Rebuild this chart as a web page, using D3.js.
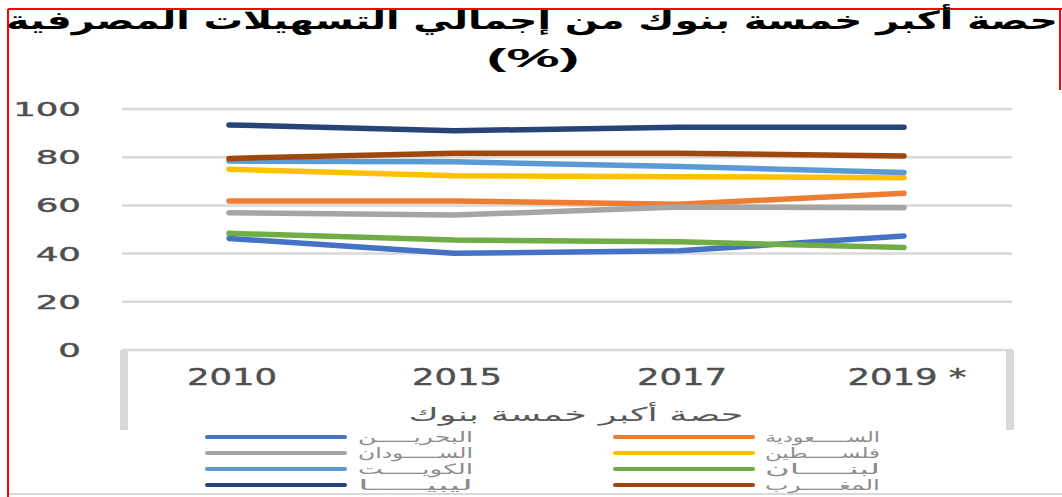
<!DOCTYPE html>
<html>
<head>
<meta charset="utf-8">
<script src="https://cdn.jsdelivr.net/npm/d3@7"></script>
<style>
    body { margin: 0; background: #fff; }
    svg { display: block; }
    text { font-family: "DejaVu Sans", "Noto Sans", sans-serif; }
</style>
</head>
<body>
<div class="chart"></div>
<script>
////////////////////////////////// data

var years = ["2010", "2015", "2017", "2019 *"];
var yTicks = [0, 20, 40, 60, 80, 100];

var bahrain   = [46.3, 40.1, 41.2, 47.3];
var saudi     = [61.8, 61.8, 60.5, 65.0];
var sudan     = [57.0, 56.0, 59.3, 59.0];
var palestine = [75.0, 72.3, 71.9, 71.5];
var kuwait    = [78.4, 78.1, 76.1, 73.7];
var lebanon   = [48.4, 45.6, 44.9, 42.5];
var libya     = [93.4, 91.0, 92.4, 92.4];
var morocco   = [79.5, 81.6, 81.6, 80.5];

var seriesNames = ["البحريـــــن", "الســـــعودية", "الســـــودان", "فلســـــطين",
                   "الكويـــــت", "لبنـــــان", "ليبيـــــا", "المغـــــرب"];
var seriesValues = [bahrain, saudi, sudan, palestine, kuwait, lebanon, libya, morocco];
var seriesColors = ["#4472C4", "#ED7D31", "#A5A5A5", "#FFC000",
                    "#5B9BD5", "#70AD47", "#264478", "#9E480E"];

var titleLine1 = "حصة أكبر خمسة بنوك من إجمالي التسهيلات المصرفية";
var titleLine2 = "(%)";
var axisTitle = "حصة أكبر خمسة بنوك";

////////////////////////////////// chart

var width = 1062, height = 497;
var grid = "#d9d9d9";

var svg = d3.select(".chart").append("svg")
    .attr("width", width).attr("height", height);

//stretches a text selection horizontally (the original was resized sideways)
function stretch(sel, factor){
    sel.each(function(){
        var w = this.getComputedTextLength();
        d3.select(this).attr("textLength", w*factor).attr("lengthAdjust", "spacingAndGlyphs");
    });
}

var x = d3.scalePoint().domain(years).range([229, 904]);
var y = d3.scaleLinear().domain([0, 100]).range([350, 109]);

//frame lines
svg.append("line").attr("x1", 8).attr("x2", 8).attr("y1", 9).attr("y2", height)
    .style("stroke", "red").style("stroke-width", 2);
svg.append("line").attr("x1", 8).attr("x2", width).attr("y1", 9).attr("y2", 9)
    .style("stroke", "red").style("stroke-width", 2);
svg.append("line").attr("x1", 1060).attr("x2", 1060).attr("y1", 9).attr("y2", 90)
    .style("stroke", "red").style("stroke-width", 2);
svg.append("line").attr("x1", 9).attr("x2", width).attr("y1", 494).attr("y2", 494)
    .style("stroke", grid).style("stroke-width", 2);

//title
svg.append("text").attr("x", 532).attr("y", 29)
    .attr("text-anchor", "middle")
    .style("font-size", "25px").style("font-weight", "bold").style("fill", "#000")
    .attr("textLength", 1052).attr("lengthAdjust", "spacingAndGlyphs")
    .text(titleLine1);
svg.append("text").attr("x", 533).attr("y", 67)
    .attr("text-anchor", "middle")
    .style("font-family", "'Liberation Sans', Arial, sans-serif")
    .style("font-size", "26px").style("font-weight", "bold").style("fill", "#000")
    .attr("textLength", 93).attr("lengthAdjust", "spacingAndGlyphs")
    .text(titleLine2);

//gridlines
svg.selectAll(".grid").data(yTicks).enter().append("line")
    .attr("class", "grid")
    .attr("x1", 122).attr("x2", 1012)
    .attr("y1", function(d){return y(d)})
    .attr("y2", function(d){return y(d)})
    .style("stroke", grid).style("stroke-width", 2.5);

//box round the category labels
svg.append("rect").attr("x", 120).attr("y", 350).attr("width", 8).attr("height", 80).style("fill", grid);
svg.append("rect").attr("x", 1006).attr("y", 350).attr("width", 8).attr("height", 80).style("fill", grid);

//y labels
svg.selectAll(".ylab").data(yTicks).enter().append("text")
    .attr("class", "ylab")
    .attr("x", 81)
    .attr("y", function(d){return y(d) + 7})
    .attr("text-anchor", "end")
    .style("font-size", "19px").style("fill", "#4f4f4f")
    .style("stroke", "#4f4f4f").style("stroke-width", 0.4)
    .text(function(d){return d})
    .call(stretch, 1.87);

//x labels
svg.selectAll(".xlab").data(years).enter().append("text")
    .attr("class", "xlab")
    .attr("x", function(d){return x(d) + 3})
    .attr("y", 385)
    .attr("text-anchor", "middle")
    .attr("direction", "ltr")
    .style("font-size", "23px").style("fill", "#4f4f4f")
    .style("stroke", "#4f4f4f").style("stroke-width", 0.4)
    .text(function(d){return d})
    .call(stretch, 1.54);

//axis title
svg.append("text").attr("x", 576).attr("y", 421)
    .attr("text-anchor", "middle")
    .style("font-size", "19px").style("fill", "#595959")
    .attr("textLength", 335).attr("lengthAdjust", "spacingAndGlyphs")
    .text(axisTitle);

//series lines
var line = d3.line()
    .x(function(d, i){return x(years[i])})
    .y(function(d){return y(d)});

svg.selectAll(".series").data(seriesValues).enter().append("path")
    .attr("class", "series")
    .attr("d", line)
    .style("fill", "none")
    .style("stroke", function(d, i){return seriesColors[i]})
    .style("stroke-width", 5.5)
    .style("stroke-linecap", "round")
    .style("stroke-linejoin", "round");

//legend, two columns, read row by row
var legend = svg.selectAll(".legend").data(seriesNames).enter().append("g")
    .attr("class", "legend")
    .attr("transform", function(d, i){
        return "translate(" + (i % 2 == 0 ? 207 : 615) + "," + (437 + Math.floor(i/2)*16) + ")";
    });

legend.append("line")
    .attr("x1", 0).attr("x2", 138).attr("y1", 0).attr("y2", 0)
    .style("stroke", function(d, i){return seriesColors[i]})
    .style("stroke-width", 4)
    .style("stroke-linecap", "round");

legend.append("text")
    .attr("x", function(d, i){return i % 2 == 0 ? 151 : 150})
    .attr("y", 5)
    .style("font-size", "14px").style("fill", "#8c8c8c")
    .attr("textLength", 115).attr("lengthAdjust", "spacingAndGlyphs")
    .text(function(d){return d});
</script>
</body>
</html>
